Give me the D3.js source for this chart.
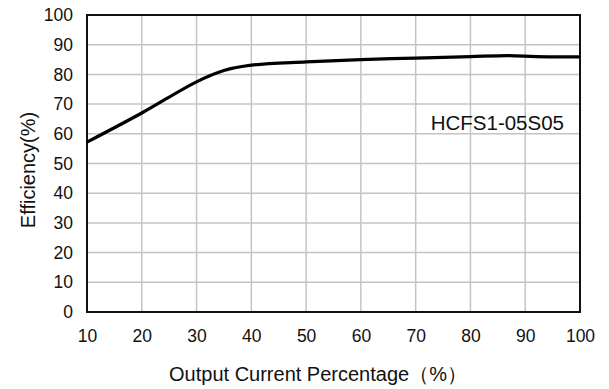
<!DOCTYPE html>
<html>
<head>
<meta charset="utf-8">
<script src="https://cdn.jsdelivr.net/npm/d3@7"></script>
<style>
  body { margin: 0; background: #fff; }
  svg text { font-family: "Liberation Sans", Arial, sans-serif; fill: #111; }
</style>
</head>
<body>
<svg id="chart"></svg>
<script>
// data
const loadPct = [10, 20, 30, 35, 40, 50, 60, 70, 80, 87, 92, 100];
const efficiency = [57.2, 67, 77.5, 81.3, 83.1, 84.2, 85, 85.5, 86, 86.3, 86, 85.9];
const xTicks = [10, 20, 30, 40, 50, 60, 70, 80, 90, 100];
const yTicks = [0, 10, 20, 30, 40, 50, 60, 70, 80, 90, 100];
const modelName = "HCFS1-05S05";

const width = 609, height = 389;
const margin = {top: 15, left: 87, right: 29, bottom: 77};
const plotW = width - margin.left - margin.right;
const plotH = height - margin.top - margin.bottom;

const svg = d3.select('#chart').attr('width', width).attr('height', height);
const g = svg.append('g').attr('transform', `translate(${margin.left},${margin.top})`);

const x = d3.scaleLinear().domain([10, 100]).range([0, plotW]);
const y = d3.scaleLinear().domain([0, 100]).range([plotH, 0]);

// grid
g.selectAll('.vgrid').data(xTicks).enter().append('line')
  .attr('x1', d => x(d)).attr('x2', d => x(d))
  .attr('y1', 0).attr('y2', plotH)
  .attr('stroke', '#c4c4c4').attr('stroke-width', 1.5);
g.selectAll('.hgrid').data(yTicks).enter().append('line')
  .attr('x1', 0).attr('x2', plotW)
  .attr('y1', d => y(d)).attr('y2', d => y(d))
  .attr('stroke', '#c4c4c4').attr('stroke-width', 1.5);

// axes (labels only, frame drawn below)
const xAxis = g.append('g').attr('transform', `translate(0,${plotH})`)
  .call(d3.axisBottom(x).tickValues(xTicks).tickSize(0).tickPadding(18));
const yAxis = g.append('g')
  .call(d3.axisLeft(y).tickValues(yTicks).tickSize(0).tickPadding(14));
[xAxis, yAxis].forEach(a => {
  a.select('.domain').remove();
  a.selectAll('text').attr('font-size', 17.5).attr('fill', '#111')
    .attr('font-family', '"Liberation Sans", Arial, sans-serif');
});

// frame
g.append('rect').attr('x', 0).attr('y', 0).attr('width', plotW).attr('height', plotH)
  .attr('fill', 'none').attr('stroke', '#111').attr('stroke-width', 2);

// curve
const line = d3.line().x((d, i) => x(loadPct[i])).y(d => y(d)).curve(d3.curveCatmullRom.alpha(0.5));
g.append('path').datum(efficiency)
  .attr('d', line)
  .attr('fill', 'none').attr('stroke', '#000').attr('stroke-width', 3.2);

// model label
g.append('text')
  .attr('x', plotW - 16).attr('y', y(61.2))
  .attr('text-anchor', 'end').attr('font-size', 20.5)
  .text(modelName);

// axis titles
svg.append('text')
  .attr('x', 318).attr('y', 381)
  .attr('text-anchor', 'middle').attr('font-size', 20)
  .text('Output Current Percentage（%）');
svg.append('text')
  .attr('transform', `translate(35,170) rotate(-90)`)
  .attr('text-anchor', 'middle').attr('font-size', 20)
  .text('Efficiency(%)');
</script>
</body>
</html>
